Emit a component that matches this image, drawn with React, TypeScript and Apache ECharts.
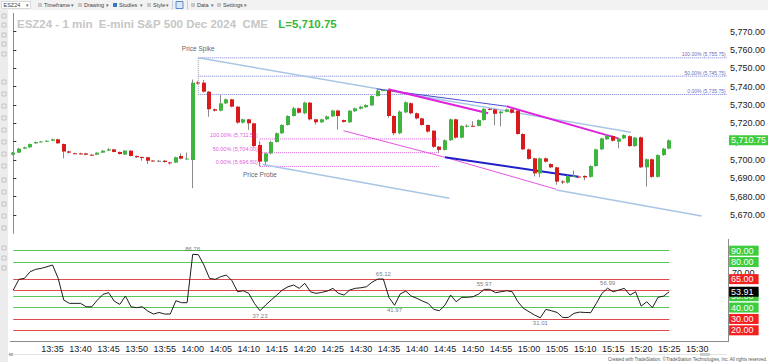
import React, { useEffect, useRef } from 'react';
import * as echarts from 'echarts';

const FONT = '"Liberation Sans", Arial, sans-serif';

// ---------- categories (1-minute bars) ----------
const firstMinute = 28; // 13:28
const axisCount = 128;
const axisTimes: string[] = [];
for (let k = 0; k < axisCount; k++) {
  const m = firstMinute + k;
  const h = 13 + Math.floor(m / 60);
  axisTimes.push(`${h}:${String(m % 60).padStart(2, '0')}`);
}

// ---------- price bars ----------
const opens = [
  5703.0, 5704.0, 5706.2, 5706.9, 5709.1, 5709.9, 5710.2, 5710.5, 5711.3, 5708.7,
  5704.7, 5703.7, 5703.6, 5703.6, 5702.9, 5702.9, 5704.0, 5705.1, 5705.8, 5704.4,
  5703.0, 5705.1, 5702.2, 5701.6, 5701.5, 5699.7, 5699.6, 5699.6, 5698.7, 5698.6,
  5702.2, 5700.7, 5700.0, 5742.3, 5742.2, 5737.3, 5727.7, 5726.9, 5730.9, 5733.1,
  5729.1, 5720.4, 5722.2, 5720.0, 5708.2, 5699.1, 5703.6, 5709.8, 5714.6, 5719.1,
  5724.0, 5728.2, 5725.5, 5731.3, 5722.2, 5720.6, 5722.2, 5723.8, 5727.0, 5721.8,
  5720.6, 5726.6, 5728.0, 5728.8, 5729.8, 5734.9, 5737.9, 5738.0, 5724.0, 5714.6,
  5726.0, 5731.0, 5725.5, 5722.7, 5719.1, 5716.0, 5707.3, 5705.5, 5710.8, 5722.2,
  5712.2, 5718.6, 5718.7, 5718.6, 5721.8, 5727.9, 5727.6, 5725.5, 5726.4, 5727.6,
  5726.9, 5714.2, 5705.8, 5700.9, 5692.7, 5700.9, 5697.8, 5696.0, 5688.3, 5687.7,
  5691.3, 5691.0, 5691.3, 5690.8, 5696.7, 5705.8, 5711.3, 5713.1, 5710.0, 5711.8,
  5713.0, 5707.6, 5712.4, 5696.0, 5700.4, 5690.8, 5702.7, 5706.2,
];
const closes = [
  5704.0, 5706.2, 5706.9, 5708.7, 5709.8, 5710.1, 5710.5, 5711.3, 5709.1, 5704.6,
  5704.0, 5703.6, 5703.5, 5702.9, 5702.8, 5704.0, 5705.1, 5705.8, 5704.4, 5703.3,
  5705.1, 5702.2, 5701.5, 5701.5, 5699.6, 5699.6, 5699.6, 5698.9, 5698.6, 5701.5,
  5700.7, 5700.8, 5742.2, 5742.0, 5737.3, 5727.7, 5726.9, 5730.9, 5733.1, 5729.1,
  5720.4, 5722.2, 5720.0, 5707.6, 5699.1, 5703.6, 5709.8, 5714.6, 5719.1, 5724.0,
  5728.2, 5725.8, 5731.3, 5722.2, 5720.6, 5722.2, 5723.8, 5727.0, 5724.0, 5720.8,
  5726.9, 5728.2, 5729.1, 5730.0, 5734.9, 5737.8, 5738.2, 5724.0, 5714.6, 5726.4,
  5731.5, 5725.5, 5722.7, 5719.1, 5715.5, 5707.2, 5705.5, 5710.8, 5722.2, 5712.2,
  5718.6, 5718.7, 5718.6, 5721.8, 5727.9, 5727.6, 5725.2, 5726.4, 5727.6, 5725.8,
  5714.2, 5705.8, 5700.6, 5692.7, 5700.9, 5699.1, 5696.0, 5688.2, 5688.2, 5691.3,
  5691.4, 5690.9, 5690.5, 5696.7, 5705.8, 5711.8, 5713.1, 5710.5, 5711.8, 5713.6,
  5707.6, 5712.2, 5696.0, 5700.4, 5690.8, 5702.7, 5706.2, 5710.75,
];
const highs = [
  5704.4, 5706.6, 5707.3, 5709.0, 5710.1, 5710.4, 5710.8, 5711.7, 5711.6, 5709.0,
  5705.1, 5704.0, 5704.0, 5703.9, 5703.2, 5704.2, 5705.3, 5706.5, 5706.0, 5704.6,
  5705.4, 5705.3, 5702.4, 5701.9, 5701.8, 5700.0, 5700.0, 5699.9, 5699.0, 5701.8,
  5703.6, 5704.0, 5743.9, 5743.0, 5743.5, 5737.6, 5728.1, 5735.5, 5733.6, 5733.4,
  5729.4, 5722.6, 5722.5, 5720.3, 5710.0, 5704.0, 5710.5, 5715.0, 5719.5, 5724.4,
  5729.0, 5728.6, 5731.8, 5731.6, 5722.5, 5722.6, 5724.2, 5727.4, 5727.4, 5722.1,
  5727.2, 5728.6, 5729.5, 5730.4, 5735.3, 5738.3, 5738.6, 5738.4, 5724.4, 5727.0,
  5732.0, 5731.4, 5725.9, 5723.0, 5719.4, 5716.3, 5707.6, 5711.2, 5722.6, 5722.5,
  5719.0, 5719.5, 5721.2, 5722.2, 5728.3, 5728.4, 5728.0, 5726.8, 5728.0, 5728.0,
  5727.3, 5714.6, 5706.2, 5701.2, 5701.3, 5701.4, 5698.2, 5696.4, 5689.0, 5691.7,
  5694.3, 5691.5, 5691.6, 5697.1, 5706.2, 5712.2, 5713.8, 5713.5, 5712.2, 5714.0,
  5713.4, 5712.6, 5712.8, 5700.8, 5700.8, 5703.1, 5706.6, 5711.2,
];
const lows = [
  5702.6, 5703.8, 5705.9, 5706.6, 5708.8, 5709.7, 5710.0, 5710.3, 5708.9, 5700.9,
  5703.6, 5703.2, 5703.0, 5702.6, 5702.5, 5702.7, 5703.8, 5704.9, 5704.2, 5703.0,
  5702.8, 5702.0, 5701.2, 5699.6, 5697.8, 5699.3, 5699.2, 5698.6, 5697.4, 5698.4,
  5700.4, 5700.3, 5684.6, 5741.2, 5736.8, 5723.6, 5726.5, 5726.6, 5730.6, 5728.8,
  5719.8, 5719.9, 5716.4, 5707.0, 5696.5, 5697.4, 5703.0, 5709.5, 5714.2, 5718.8,
  5723.7, 5725.3, 5725.0, 5721.6, 5719.4, 5720.2, 5721.9, 5723.5, 5716.6, 5720.4,
  5720.2, 5726.2, 5727.6, 5728.5, 5729.5, 5734.6, 5737.5, 5723.0, 5713.6, 5714.2,
  5725.6, 5725.0, 5722.2, 5718.7, 5715.0, 5706.6, 5703.8, 5705.2, 5710.4, 5711.8,
  5711.8, 5717.8, 5718.2, 5718.3, 5721.5, 5727.2, 5719.0, 5718.4, 5726.0, 5725.4,
  5713.8, 5705.4, 5700.2, 5691.0, 5690.6, 5698.6, 5695.5, 5686.5, 5686.8, 5687.2,
  5690.8, 5690.3, 5689.0, 5690.4, 5696.3, 5705.4, 5711.0, 5710.1, 5706.4, 5711.4,
  5707.2, 5707.2, 5695.6, 5685.5, 5690.2, 5690.4, 5702.3, 5705.8,
];
const lastPrice = 5710.75;

// ---------- oscillator ----------
const oscValues = [
  55.4, 64.8, 65.7, 71.5, 73.6, 74.5, 75.9, 77.4, 65.7, 46.6,
  43.7, 43.7, 43.7, 40.7, 40.7, 46.6, 51.6, 53.1, 45.7, 42.8,
  50.1, 40.7, 39.9, 40.7, 36.9, 34.3, 35.7, 34.3, 34.3, 46.0,
  44.3, 44.3, 86.76, 86.5, 77.4, 65.7, 64.8, 67.1, 68.6, 63.6,
  53.9, 54.8, 52.5, 43.7, 37.23, 42.2, 46.6, 51.0, 55.4, 58.3,
  59.8, 56.9, 61.3, 53.9, 52.5, 53.3, 54.5, 56.9, 52.5, 51.0,
  55.4, 56.9, 57.4, 58.3, 62.3, 65.0, 65.12, 49.0, 41.97, 51.9,
  54.5, 50.1, 48.1, 45.7, 43.7, 38.4, 37.2, 42.2, 51.0, 45.1,
  49.0, 49.0, 49.5, 51.9, 55.97, 56.0, 53.1, 53.9, 54.8, 53.9,
  45.1, 39.3, 36.3, 33.4, 31.01, 38.4, 37.2, 35.7, 31.3, 31.3,
  34.9, 36.0, 35.7, 35.5, 43.7, 52.5, 56.99, 53.9, 55.4, 56.9,
  51.0, 53.9, 41.3, 45.1, 39.9, 49.0, 50.1, 53.91,
];
const oscPeakIdx = [32, 44, 66, 68, 84, 94, 106];
const oscPeakSide = ['top', 'bottom', 'top', 'bottom', 'top', 'bottom', 'top'];
const greenLevels = [90, 80, 50, 40];
const redLevels = [65, 55, 30, 20];
const greenBoxes = [90, 80, 50, 40];
const redBoxes = [65, 30, 20];

// ---------- drawings (bar index, price) ----------
const spikeFibLevels = [5755.75, 5745.75, 5735.75];
const spikeFibTexts = ['100.00% (5,755.75)', '50.00% (5,745.75)', '0.00% (5,735.75)'];
const spikeFibFrom = 33;
const spikeFibTo = 127.3;
const probeFibLevels = [5711.5, 5704.0, 5696.5];
const probeFibTexts = ['100.00% (5,711.50)', '50.00% (5,704.00)', '0.00% (5,696.50)'];
const probeFibFrom = 44;
const probeFibTo = 76.1;

const lightBlueLines = [
  [[33, 5755.75], [110.2, 5715.1]],
  [[44.5, 5697.6], [77.8, 5679.1]],
  [[96.9, 5683.6], [122.8, 5669.5]],
];
const magentaThick = [
  [[66.9, 5738.6], [84.7, 5725.5]],
  [[88.0, 5729.3], [107.9, 5711.8]],
];
const magentaThin = [
  [[58.9, 5716.0], [77.0, 5701.5]],
  [[77.0, 5701.5], [96.9, 5684.0]],
];
const blueThin = [[[64.8, 5738.8], [88.0, 5729.3]]];
const blueThick = [[[77.0, 5701.5], [100.8, 5690.9]]];

const GREEN = '#3fb53f';
const RED = '#d91a1a';
const CLEAR = 'rgba(0,0,0,0)';

function seg(pts: number[][], color: string, width: number, type: string = 'solid', extra: any = {}) {
  return {
    type: 'line',
    xAxisIndex: 1,
    yAxisIndex: 0,
    data: pts,
    symbol: 'none',
    silent: true,
    animation: false,
    z: 3,
    lineStyle: { color, width, type },
    ...extra,
  };
}

function boxLabel(bg: string, text: string) {
  return {
    show: true,
    position: 'end',
    distance: 1,
    formatter: text,
    backgroundColor: bg,
    color: '#fff',
    fontSize: 9,
    fontFamily: FONT,
    padding: [1, 5, 0, 2],
    lineHeight: 9,
  };
}

function buildOption() {
  const n = opens.length;
  const candleData = opens.map((o, i) => [i, o, closes[i], lows[i], highs[i]]);
  const series: any[] = [];

  series.push({
    type: 'custom',
    xAxisIndex: 0,
    yAxisIndex: 0,
    data: candleData,
    encode: { x: 0, y: [1, 2, 3, 4] },
    z: 4,
    renderItem: (params: any, api: any) => {
      const i = api.value(0);
      const o = api.value(1);
      const c = api.value(2);
      const l = api.value(3);
      const h = api.value(4);
      const pO = api.coord([i, o]);
      const pC = api.coord([i, c]);
      const pL = api.coord([i, l]);
      const pH = api.coord([i, h]);
      const left = Math.round(pO[0] - 2);
      const top = Math.min(pO[1], pC[1]);
      let hh = Math.abs(pO[1] - pC[1]);
      if (hh < 1) hh = 1;
      const fill = Math.abs(c - o) < 0.05 ? '#777' : c > o ? GREEN : RED;
      return {
        type: 'group',
        children: [
          { type: 'line', shape: { x1: left + 1.5, y1: pH[1], x2: left + 1.5, y2: pL[1] }, style: { stroke: '#8a8a8a', lineWidth: 1 } },
          { type: 'rect', shape: { x: left, y: top, width: 4, height: hh }, style: { fill } },
        ],
      };
    },
    markLine: {
      silent: true,
      symbol: 'none',
      lineStyle: { color: CLEAR, width: 0 },
      data: [{ yAxis: lastPrice, label: boxLabel('#3dcc3d', '5,710.75') }],
    },
  });

  // Fibonacci "Price Spike"
  spikeFibLevels.forEach((lv) => {
    series.push(seg([[spikeFibFrom, lv], [spikeFibTo, lv]], '#7b7bd6', 1, 'dotted'));
  });
  series.push(seg([[spikeFibFrom, spikeFibLevels[0]], [spikeFibFrom, spikeFibLevels[2]]], '#9a9aa8', 1, 'dotted'));
  // Fibonacci "Price Probe"
  probeFibLevels.forEach((lv) => {
    series.push(seg([[probeFibFrom, lv], [probeFibTo, lv]], '#e066e0', 1, 'dotted'));
  });
  series.push(seg([[probeFibFrom, probeFibLevels[0]], [probeFibFrom, probeFibLevels[2]]], '#d6a0d6', 1, 'dotted'));

  lightBlueLines.forEach((p) => series.push(seg(p, '#a9c5e6', 1.5)));
  magentaThin.forEach((p) => series.push(seg(p, '#e455e4', 1)));
  blueThin.forEach((p) => series.push(seg(p, '#4a4ad0', 1)));
  magentaThick.forEach((p) => series.push(seg(p, '#e020dc', 2)));
  blueThick.forEach((p) => series.push(seg(p, '#2020c8', 2)));

  // annotation texts
  const txt = (x: number, y: number, t: string, color: string, size: number, pos: any, dist: number, off: number[]) => ({
    name: t,
    value: [x, y],
    label: { show: true, formatter: '{b}', position: pos, distance: dist, offset: off, color, fontSize: size, fontFamily: FONT },
  });
  const notes: any[] = [];
  spikeFibLevels.forEach((lv, k) => notes.push(txt(127.1, lv, spikeFibTexts[k], '#3a3aa8', 5, 'left', 0, [0, -3.5])));
  probeFibLevels.forEach((lv, k) => notes.push(txt(probeFibFrom, lv, probeFibTexts[k], '#d428d4', 5.5, 'left', 2, [0, -4])));
  notes.push(txt(spikeFibFrom, spikeFibLevels[0], 'Price Spike', '#333', 6.5, 'top', 6, [0, 0]));
  notes.push(txt(probeFibFrom, probeFibLevels[2], 'Price Probe', '#333', 6.5, 'bottom', 5, [0, 0]));
  series.push({
    type: 'scatter',
    xAxisIndex: 1,
    yAxisIndex: 0,
    symbolSize: 0,
    silent: true,
    z: 6,
    data: notes,
  });

  // oscillator pane
  const mlData: any[] = [];
  greenLevels.forEach((v) =>
    mlData.push([{ coord: [0, v], lineStyle: { color: '#59c659', width: 1 }, label: { show: false } }, { coord: [n - 1, v] }]),
  );
  redLevels.forEach((v) =>
    mlData.push([{ coord: [0, v], lineStyle: { color: '#e04a4a', width: 1 }, label: { show: false } }, { coord: [n - 1, v] }]),
  );
  greenBoxes.forEach((v) => mlData.push({ yAxis: v, lineStyle: { color: CLEAR, width: 0 }, label: boxLabel('#3dcc3d', v.toFixed(2)) }));
  redBoxes.forEach((v) => mlData.push({ yAxis: v, lineStyle: { color: CLEAR, width: 0 }, label: boxLabel('#f22020', v.toFixed(2)) }));
  mlData.push({
    yAxis: oscValues[n - 1],
    lineStyle: { color: CLEAR, width: 0 },
    label: boxLabel('#000', oscValues[n - 1].toFixed(2)),
  });

  series.push({
    type: 'line',
    xAxisIndex: 2,
    yAxisIndex: 1,
    data: oscValues,
    symbol: 'none',
    silent: true,
    z: 5,
    lineStyle: { color: '#1e1e1e', width: 1 },
    markLine: {
      silent: true,
      symbol: 'none',
      lineStyle: { type: 'solid' },
      data: mlData,
    },
  });
  series.push({
    type: 'scatter',
    xAxisIndex: 2,
    yAxisIndex: 1,
    symbolSize: 0,
    silent: true,
    z: 6,
    data: oscPeakIdx.map((i, k) => ({
      value: [i, oscValues[i]],
      label: {
        show: true,
        position: oscPeakSide[k],
        distance: 2,
        formatter: oscValues[i].toFixed(2),
        color: '#555',
        fontSize: 6,
        fontFamily: FONT,
      },
    })),
  });

  const tb = (x: number, t: string) => ({
    type: 'text', x, y: 5, style: { text: t, fontSize: 5.5, fill: '#444', fontFamily: FONT, verticalAlign: 'middle' },
  });
  const ico = (x: number, color: string) => ({
    type: 'rect', shape: { x, y: 3, width: 4, height: 4 }, style: { fill: color },
  });
  const arrow = (x: number) => ({
    type: 'text', x, y: 5, style: { text: '▾', fontSize: 5, fill: '#666', fontFamily: FONT, verticalAlign: 'middle' },
  });
  const sideIcons = [14, 23, 33, 42, 52, 80, 92, 104, 116, 128, 140, 152, 164, 178, 190, 202, 214, 226, 246, 256, 266];

  const graphic: any[] = [
    { type: 'rect', shape: { x: 0, y: 0, width: 768, height: 10 }, style: { fill: '#f2f2f2' }, z: 0 },
    { type: 'rect', shape: { x: 1.5, y: 1.5, width: 29, height: 7 }, style: { fill: '#fff', stroke: '#bdbdbd', lineWidth: 0.5 } },
    tb(3.5, 'ESZ24'),
    arrow(26),
    ico(38, '#c8c8c8'), tb(44, 'Timeframe'), arrow(71),
    ico(78, '#c8c8c8'), tb(84, 'Drawing'), arrow(106),
    ico(113, '#3a74c0'), tb(119, 'Studies'), arrow(140),
    ico(147, '#c8c8c8'), tb(153, 'Style'), arrow(166),
    { type: 'rect', shape: { x: 172, y: 0.5, width: 0.6, height: 9 }, style: { fill: '#9db4d6' } },
    { type: 'rect', shape: { x: 176, y: 1.5, width: 7, height: 7 }, style: { fill: '#dbe7f6', stroke: '#3a74c0', lineWidth: 0.8 } },
    { type: 'rect', shape: { x: 187, y: 0.5, width: 0.6, height: 9 }, style: { fill: '#9db4d6' } },
    ico(191, '#c8c8c8'), tb(197, 'Data'), arrow(211),
    ico(217, '#c8c8c8'), tb(223, 'Settings'), arrow(244),
    { type: 'rect', shape: { x: 0, y: 10, width: 8, height: 352 }, style: { fill: '#ececec' } },
    ...sideIcons.map((y) => ({ type: 'rect', shape: { x: 2, y, width: 4, height: 4 }, style: { fill: 'none', stroke: '#b5b5b5', lineWidth: 0.7 } })),
    { type: 'rect', shape: { x: 8, y: 354, width: 719, height: 1 }, style: { fill: '#e2e2e2' } },
    { type: 'rect', shape: { x: 9, y: 353, width: 4, height: 3 }, style: { fill: '#bbb' } },
    { type: 'rect', shape: { x: 700, y: 353, width: 10, height: 3 }, style: { fill: '#ccc' } },
    {
      type: 'text', x: 767, y: 359,
      style: {
        text: 'Created with TradeStation. ©TradeStation Technologies, Inc. All rights reserved.',
        fontSize: 4.5, fill: '#555', fontFamily: FONT, align: 'right', verticalAlign: 'middle',
      },
    },
  ];

  const gridL = 10.5;
  const gridR = 39.9;

  return {
    animation: false,
    backgroundColor: '#ffffff',
    textStyle: { fontFamily: FONT },
    title: {
      left: 12,
      top: 10,
      text: '{a|ESZ24 - 1 min  E-mini S&P 500 Dec 2024  CME}  {b|L=5,710.75}',
      textStyle: {
        rich: {
          a: { fontSize: 11.5, fontWeight: 'bold', color: '#c6c6c6', fontFamily: FONT, lineHeight: 15 },
          b: { fontSize: 11.5, fontWeight: 'bold', color: '#37b737', fontFamily: FONT, lineHeight: 15 },
        },
      },
    },
    grid: [
      { left: gridL, right: gridR, top: 13.4, height: 219.9 },
      { left: gridL, right: gridR, top: 239.3, height: 102.4 },
    ],
    xAxis: [
      { type: 'category', gridIndex: 0, data: axisTimes, show: false },
      { type: 'value', gridIndex: 0, min: -0.5, max: axisCount - 0.5, show: false },
      {
        type: 'category',
        gridIndex: 1,
        data: axisTimes,
        axisLine: { lineStyle: { color: '#8c8c8c' } },
        axisTick: { show: false },
        axisLabel: {
          interval: (idx: number, val: string) => idx >= 7 && idx <= 122 && Number(val.slice(-2)) % 5 === 0,
          fontSize: 9,
          color: '#1a1a1a',
          margin: 3,
          fontFamily: FONT,
        },
      },
    ],
    yAxis: [
      {
        type: 'value',
        gridIndex: 0,
        position: 'right',
        min: 5660,
        max: 5780,
        interval: 10,
        splitLine: { show: false },
        axisLine: { show: true, lineStyle: { color: '#8c8c8c' } },
        axisTick: { show: true, length: 3, lineStyle: { color: '#333' } },
        axisLabel: {
          showMinLabel: false,
          showMaxLabel: false,
          fontSize: 9,
          color: '#1a1a1a',
          margin: 2,
          fontFamily: FONT,
          formatter: (v: number) => v.toLocaleString('en-US', { minimumFractionDigits: 2, maximumFractionDigits: 2 }),
        },
      },
      {
        type: 'value',
        gridIndex: 1,
        position: 'right',
        min: 10,
        max: 100,
        interval: 10,
        splitLine: { show: false },
        axisLine: { show: true, lineStyle: { color: '#8c8c8c' } },
        axisTick: { show: false },
        axisLabel: {
          fontSize: 9,
          color: '#1a1a1a',
          margin: 4,
          fontFamily: FONT,
          formatter: (v: number) => (v === 70 ? '70.00' : ''),
        },
      },
    ],
    series,
    graphic,
  };
}

export default function App() {
  const ref = useRef<HTMLDivElement>(null);
  useEffect(() => {
    const chart = echarts.init(ref.current!, null, { renderer: 'svg' });
    chart.setOption(buildOption() as any);
    return () => chart.dispose();
  }, []);
  return <div ref={ref} style={{ position: 'absolute', left: 0, top: 0, width: 768, height: 362 }} />;
}
